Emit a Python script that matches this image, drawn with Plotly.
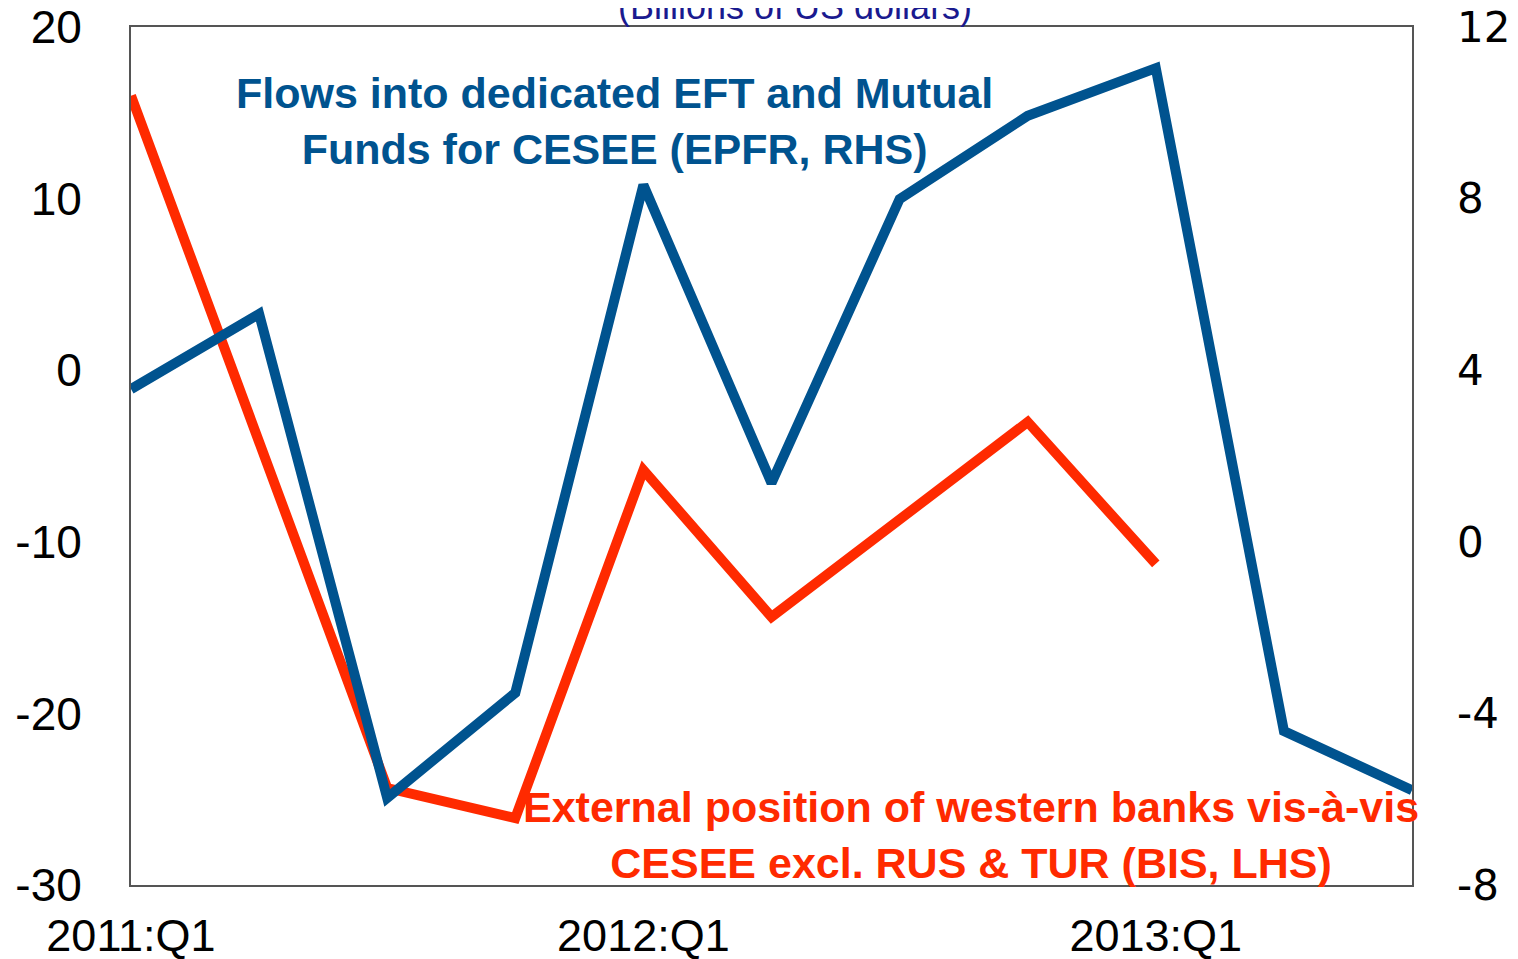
import plotly.graph_objects as go

quarters = ["2011:Q1", "2011:Q2", "2011:Q3", "2011:Q4", "2012:Q1", "2012:Q2",
            "2012:Q3", "2012:Q4", "2013:Q1", "2013:Q2", "2013:Q3"]
epfr_flows_rhs = [3.56, 5.31, -5.97, -3.52, 8.32, 1.37, 7.99, 9.93, 11.04, -4.41, -5.79]
bis_position_lhs = [16.0, -4.2, -24.35, -26.1, -5.82, -14.38, -8.79, -3.02, -11.29]
x_tick_labels = ["2011:Q1", "2012:Q1", "2013:Q1"]
lhs_ticks = [-30, -20, -10, 0, 10, 20]
rhs_ticks = [-8, -4, 0, 4, 8, 12]

xi = list(range(len(quarters)))
BLUE = "#00538F"
RED = "#FF2A00"
FONT = "Liberation Sans, Arial, sans-serif"

fig = go.Figure()
fig.add_trace(go.Scatter(x=xi, y=epfr_flows_rhs, mode="lines", yaxis="y2",
                         line=dict(color=BLUE, width=10),
                         name="EPFR", showlegend=False))
fig.add_trace(go.Scatter(x=xi[:len(bis_position_lhs)], y=bis_position_lhs, mode="lines",
                         line=dict(color=RED, width=10), name="BIS", showlegend=False))

fig.update_layout(
    width=1510, height=951,
    margin=dict(l=123, r=106, t=19, b=74, autoexpand=False),
    paper_bgcolor="white", plot_bgcolor="white",
    xaxis=dict(range=[0, 10], tickvals=[xi[quarters.index(q)] for q in x_tick_labels],
               ticktext=x_tick_labels, showgrid=False, zeroline=False,
               showline=True, linecolor="#555555", linewidth=2, mirror=True,
               ticks="", ticklabelstandoff=10, automargin=False,
               ticklabeloverflow="allow",
               tickfont=dict(family=FONT, size=45, color="black")),
    yaxis=dict(range=[-30, 20], tickvals=lhs_ticks, ticktext=[str(v) for v in lhs_ticks],
               showgrid=False, zeroline=False,
               showline=True, linecolor="#555555", linewidth=2, mirror=True,
               ticks="", ticklabelstandoff=38, automargin=False,
               ticklabeloverflow="allow",
               tickfont=dict(family=FONT, size=46, color="black")),
    yaxis2=dict(range=[-8, 12], tickvals=rhs_ticks, ticktext=[str(v) for v in rhs_ticks],
                overlaying="y", side="right",
                showgrid=False, zeroline=False, showline=False, ticks="",
                ticklabelstandoff=44, automargin=False,
                ticklabeloverflow="allow",
                tickfont=dict(family="DejaVu Sans, sans-serif", size=42, color="black")),
    annotations=[
        dict(text="(Billions of US dollars)", xref="paper", yref="paper",
             x=(795 - 131) / 1281, y=1.0, yanchor="middle", yshift=21, showarrow=False,
             font=dict(family=FONT, size=36, color="#1A1A8F")),
        dict(text="<b>Flows into dedicated EFT and Mutual<br>Funds for CESEE (EPFR, RHS)</b>",
             xref="paper", yref="paper", x=(614 - 131) / 1281, y=(885 - 121.5) / 858,
             yanchor="middle", showarrow=False, align="center",
             font=dict(family=FONT, size=43, color=BLUE)),
        dict(text="<b>External position of western banks vis-à-vis<br>CESEE excl. RUS & TUR (BIS, LHS)</b>",
             xref="paper", yref="paper", x=(971 - 131) / 1281, y=(885 - 835) / 858,
             yanchor="middle", showarrow=False, align="center",
             font=dict(family=FONT, size=43, color=RED)),
    ],
)

fig.write_html("out.html")
